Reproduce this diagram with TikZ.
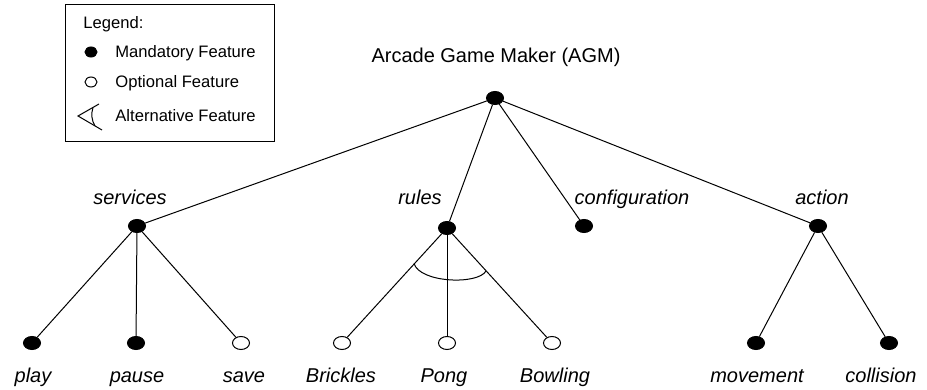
\documentclass[tikz,border=0pt]{standalone}
\usepackage{fontspec}
\setmainfont{Liberation Sans}
\usetikzlibrary{positioning,
                shapes.geometric}
\tikzstyle{mandatory} = [ellipse,fill=black,draw,line width=0.5pt,minimum width=8.5pt,minimum height=6.5pt,inner sep=0pt]
\tikzstyle{optional} = [ellipse,fill=white,draw,line width=0.5pt,minimum width=8.5pt,minimum height=6.5pt,inner sep=0pt]
\tikzstyle{feature} = [font=\fontsize{10}{12}\selectfont\itshape,anchor=base,inner sep=0pt]
\tikzstyle{legendtext} = [font=\fontsize{8.3}{10}\selectfont,anchor=base west,inner sep=0pt]
\tikzstyle{edge} = [line width=0.5pt]

\begin{document}
\begin{tikzpicture}[x=0.5pt,y=-0.5pt]
    \useasboundingbox (0,0) rectangle (927,390);

    % legend
    \draw[edge] (65,5) rectangle (274,142);
    \node[legendtext] (legtitle) at (83,29) {Legend:};
    \node[mandatory,minimum width=6pt,minimum height=5pt] (legm) at (91,52) {};
    \node[legendtext] (legmtext) at (115,58) {Mandatory Feature};
    \node[optional,minimum width=6pt,minimum height=5pt] (lego) at (91,82) {};
    \node[legendtext] (legotext) at (115,88) {Optional Feature};
    \coordinate (alttip) at (78,116);
    \draw[edge] (99,104) -- (alttip) -- (102,130);
    \draw[edge] (93,107.5) .. controls (91,114) and (91.5,120) .. (95,126);
    \node[legendtext] (legatext) at (115,122) {Alternative Feature};

    % features
    \node[mandatory] (agm) at (495,98) {};
    \node[font=\fontsize{10}{12}\selectfont,anchor=base,inner sep=0pt] (agmlabel) at (496,63) {Arcade Game Maker (AGM)};

    \node[mandatory] (services) at (137,226) {};
    \node[mandatory] (rules) at (447,228) {};
    \node[mandatory] (configuration) at (584,226) {};
    \node[mandatory] (action) at (818,226) {};
    \node[feature] (serviceslabel) at (130,205) {services};
    \node[feature] (ruleslabel) at (420,205) {rules};
    \node[feature] (configurationlabel) at (632,205) {configuration};
    \node[feature] (actionlabel) at (822,205) {action};

    \node[mandatory] (play) at (32,343) {};
    \node[mandatory] (pause) at (136,343) {};
    \node[optional] (save) at (241,343) {};
    \node[optional] (brickles) at (342,343) {};
    \node[optional] (pong) at (447,343) {};
    \node[optional] (bowling) at (552,343) {};
    \node[mandatory] (movement) at (756,343) {};
    \node[mandatory] (collision) at (889,343) {};
    \node[feature] (playlabel) at (33,382) {play};
    \node[feature] (pauselabel) at (137,382) {pause};
    \node[feature] (savelabel) at (244,382) {save};
    \node[feature] (brickleslabel) at (341,382) {Brickles};
    \node[feature] (ponglabel) at (444,382) {Pong};
    \node[feature] (bowlinglabel) at (555,382) {Bowling};
    \node[feature] (movementlabel) at (757,382) {movement};
    \node[feature] (collisionlabel) at (881,382) {collision};

    \draw[edge] (agm) -- (services);
    \draw[edge] (agm) -- (rules);
    \draw[edge] (agm) -- (configuration);
    \draw[edge] (agm) -- (action);
    \draw[edge] (services) -- (play);
    \draw[edge] (services) -- (pause);
    \draw[edge] (services) -- (save);
    \draw[edge] (rules) -- (brickles);
    \draw[edge] (rules) -- (pong);
    \draw[edge] (rules) -- (bowling);
    \draw[edge] (action) -- (movement);
    \draw[edge] (action) -- (collision);

    % alternative arc
    \draw[edge] (414,263.5) .. controls (420,283) and (478,285) .. (486,271);
\end{tikzpicture}
\end{document}
